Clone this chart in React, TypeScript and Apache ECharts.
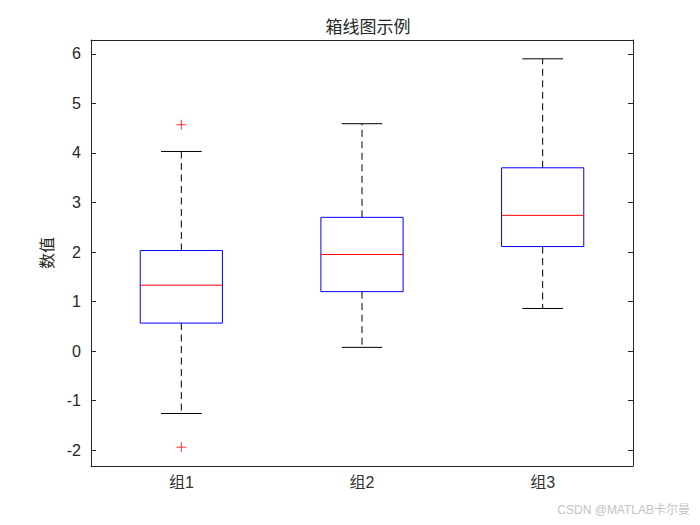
import React, { useEffect, useRef } from "react";
import * as echarts from "echarts";

const categories = ["组1", "组2", "组3"];
// [lower whisker, Q1, median, Q3, upper whisker]
const boxStats = [
  [-1.26, 0.565, 1.33, 2.03, 4.03],
  [0.075, 1.2, 1.95, 2.7, 4.59],
  [0.86, 2.11, 2.74, 3.7, 5.9],
];
// [category index, value]
const outliers = [
  [0, 4.57],
  [0, -1.94],
];
const yTicks = [-2, -1, 0, 1, 2, 3, 4, 5, 6];
const yMin = -2.32;
const yMax = 6.28;

export default function App() {
  const ref = useRef<HTMLDivElement>(null);
  useEffect(() => {
    document.body.style.margin = "0";
    const chart = echarts.init(ref.current!, null, { renderer: "svg" });
    const axisColor = "#262626";
    const font = "Arial, 'Liberation Sans', 'Noto Sans CJK SC', sans-serif";
    const option: any = {
      animation: false,
      backgroundColor: "#fff",
      title: {
        text: "箱线图示例",
        left: 363,
        top: 14,
        textAlign: "center",
        textStyle: { fontSize: 17, fontWeight: "normal", color: axisColor, fontFamily: font },
      },
      graphic: [
        {
          type: "text",
          right: 10,
          top: 504,
          style: { text: "CSDN @MATLAB卡尔曼", fontSize: 12, fill: "#c4c4c4", fontFamily: font },
        },
      ],
      grid: { left: 91, right: 67, top: 40, bottom: 59 },
      xAxis: [
        {
          type: "category",
          data: categories,
          boundaryGap: true,
          axisLine: { onZero: false, lineStyle: { color: axisColor, width: 1 } },
          axisTick: { inside: true, alignWithLabel: true, length: 5, lineStyle: { color: axisColor } },
          axisLabel: { fontSize: 16, color: "#333", margin: 8, fontFamily: font },
          splitLine: { show: false },
        },
        {
          type: "category",
          data: categories,
          position: "top",
          boundaryGap: true,
          axisLine: { onZero: false, lineStyle: { color: axisColor, width: 1 } },
          axisTick: { inside: true, alignWithLabel: true, length: 5, lineStyle: { color: axisColor } },
          axisLabel: { show: false },
        },
      ],
      yAxis: [
        {
          type: "value",
          min: yMin,
          max: yMax,
          name: "数值",
          nameLocation: "middle",
          nameGap: 31,
          nameTextStyle: { fontSize: 16, color: axisColor, fontFamily: font },
          axisLine: { show: true, onZero: false, lineStyle: { color: axisColor, width: 1 } },
          axisTick: { show: true, inside: true, length: 5, customValues: yTicks, lineStyle: { color: axisColor } },
          axisLabel: { fontSize: 16, color: axisColor, margin: 10, customValues: yTicks, fontFamily: font },
          splitLine: { show: false },
        },
        {
          type: "value",
          min: yMin,
          max: yMax,
          position: "right",
          axisLine: { show: true, onZero: false, lineStyle: { color: axisColor, width: 1 } },
          axisTick: { show: true, inside: true, length: 5, customValues: yTicks, lineStyle: { color: axisColor } },
          axisLabel: { show: false },
          splitLine: { show: false },
        },
      ],
      series: [
        {
          type: "custom",
          data: boxStats.map((s, i) => [i, ...s]),
          encode: { x: 0, y: [1, 2, 3, 4, 5] },
          renderItem: (params: any, api: any) => {
            const idx = api.value(0);
            const lw = api.value(1);
            const q1 = api.value(2);
            const med = api.value(3);
            const q3 = api.value(4);
            const uw = api.value(5);
            const bandW = api.size([1, 0])[0];
            const boxW = bandW * 0.455;
            const capW = bandW * 0.225;
            const [cx, yLw] = api.coord([idx, lw]);
            const yQ1 = api.coord([idx, q1])[1];
            const yMed = api.coord([idx, med])[1];
            const yQ3 = api.coord([idx, q3])[1];
            const yUw = api.coord([idx, uw])[1];
            const whiskerStyle = { stroke: "#000", lineWidth: 1, lineDash: [7, 4.5] };
            return {
              type: "group",
              children: [
                { type: "line", shape: { x1: cx, y1: yQ3, x2: cx, y2: yUw }, style: whiskerStyle },
                { type: "line", shape: { x1: cx, y1: yQ1, x2: cx, y2: yLw }, style: whiskerStyle },
                { type: "line", shape: { x1: cx - capW / 2, y1: yUw, x2: cx + capW / 2, y2: yUw }, style: { stroke: "#000", lineWidth: 1 } },
                { type: "line", shape: { x1: cx - capW / 2, y1: yLw, x2: cx + capW / 2, y2: yLw }, style: { stroke: "#000", lineWidth: 1 } },
                {
                  type: "rect",
                  shape: { x: cx - boxW / 2, y: yQ3, width: boxW, height: yQ1 - yQ3 },
                  style: { fill: "none", stroke: "#0000ff", lineWidth: 1 },
                },
                { type: "line", shape: { x1: cx - boxW / 2, y1: yMed, x2: cx + boxW / 2, y2: yMed }, style: { stroke: "#ff0000", lineWidth: 1 } },
              ],
            };
          },
        },
        {
          type: "scatter",
          data: outliers,
          symbol: "path://M0,5L10,5M5,0L5,10",
          symbolSize: 10,
          itemStyle: { color: "none", borderColor: "#ff0000", borderWidth: 1 },
        },
      ],
    };
    chart.setOption(option);
    return () => chart.dispose();
  }, []);
  return <div ref={ref} style={{ width: 700, height: 525 }} />;
}
